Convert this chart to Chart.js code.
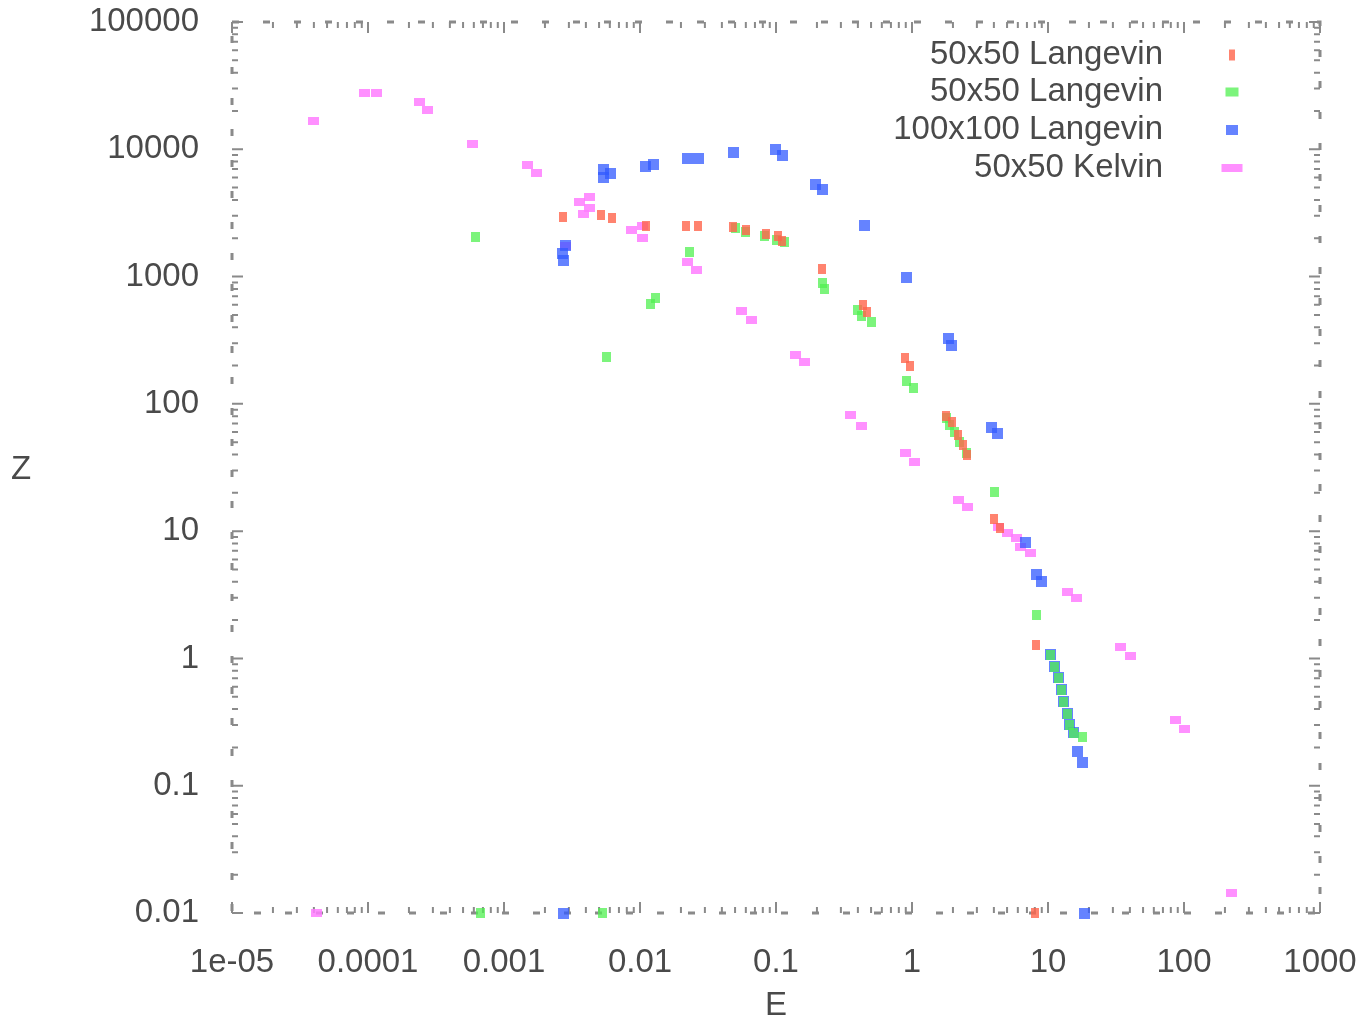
<!DOCTYPE html>
<html>
<head>
<meta charset="utf-8">
<script src="https://cdn.jsdelivr.net/npm/chart.js@4.4.1/dist/chart.umd.min.js"></script>
<style>
  html, body { margin: 0; padding: 0; background: #fff; }
</style>
</head>
<body>
<canvas id="graph" width="1367" height="1026"></canvas>
<script>
// axis ticks
const xTickValues = [1e-5, 1e-4, 1e-3, 0.01, 0.1, 1, 10, 100, 1000];
const xTickLabels = ["1e-05", "0.0001", "0.001", "0.01", "0.1", "1", "10", "100", "1000"];
const yTickValues = [0.01, 0.1, 1, 10, 100, 1000, 10000, 100000];
const yTickLabels = ["0.01", "0.1", "1", "10", "100", "1000", "10000", "100000"];

const seriesNames = ["50x50 Langevin", "50x50 Langevin", "100x100 Langevin", "50x50 Kelvin"];

// 50x50 Langevin (red)
const lang1X = [0.00272, 0.00516, 0.00622, 0.0111, 0.0218, 0.0267, 0.0483, 0.0601, 0.0843, 0.104, 0.111,
  0.218, 0.437, 0.467, 0.889, 0.966, 1.78, 1.97, 2.18, 2.37, 2.54, 4.01, 4.44, 8.17, 8.02];
const lang1Y = [2940, 3050, 2880, 2500, 2500, 2500, 2450, 2320, 2160, 2080, 1900,
  1150, 598, 527, 230, 199, 80.4, 72.1, 57.0, 47.6, 39.7, 12.5, 10.6, 1.28, 0.01];

// 50x50 Langevin (green)
const lang2X = [0.000622, 0.00571, 0.0119, 0.0129, 0.0233, 0.0508, 0.0601, 0.083, 0.1, 0.115, 0.218, 0.229,
  0.395, 0.428, 0.5, 0.904, 1.02, 1.78, 1.9, 2.07, 2.25, 2.5, 4.01, 8.17,
  10.5, 11.2, 11.9, 12.5, 13.1, 13.8, 14.5, 15.5, 17.8, 0.000667, 0.00526];
const lang2Y = [2050, 234, 609, 679, 1560, 2410, 2240, 2080, 1940, 1870, 891, 800,
  547, 491, 440, 151, 133, 77.5, 68.3, 60.2, 50.2, 41.1, 20.3, 2.2,
  1.07, 0.859, 0.703, 0.566, 0.456, 0.366, 0.301, 0.26, 0.242, 0.01, 0.01];

// 100x100 Langevin (blue)
const lang3X = [0.00281, 0.00267, 0.00272, 0.00535, 0.00612, 0.00543, 0.0109, 0.0125, 0.0225, 0.0267, 0.0491,
  0.0985, 0.112, 0.194, 0.218, 0.444, 0.918, 1.87, 1.94, 3.81, 4.22, 6.78, 8.17, 8.89,
  10.5, 11.2, 11.9, 12.5, 13.1, 13.8, 14.5, 15.5, 16.6, 17.8, 0.00272, 18.4];
const lang3Y = [1740, 1510, 1330, 6880, 6510, 5950, 7260, 7530, 8540, 8400, 9520,
  9880, 8860, 5250, 4790, 2500, 975, 324, 285, 64.7, 58.1, 8.08, 4.53, 3.99,
  1.07, 0.859, 0.703, 0.566, 0.456, 0.366, 0.301, 0.26, 0.185, 0.151, 0.01, 0.01];

// 50x50 Kelvin (pink)
const kelvX = [4.0e-5, 9.5e-5, 1.16e-4, 2.41e-4, 2.76e-4, 5.82e-4, 1.5e-3, 1.72e-3, 3.62e-3, 4.28e-3, 4.22e-3,
  3.81e-3, 2.81e-3, 8.73e-3, 0.0105, 0.0105, 0.0222, 0.0262, 0.0562, 0.0655, 0.138, 0.161,
  0.356, 0.422, 0.889, 1.05, 2.18, 2.58, 4.29, 5.08, 5.82, 6.33, 7.38, 13.8, 16.1,
  34.4, 40.7, 85.9, 100, 225, 4.15e-5];
const kelvY = [16700, 27700, 27700, 23500, 20400, 11000, 7530, 6510, 3860, 4220, 3460,
  3100, 1740, 2320, 2500, 2010, 1300, 1130, 537, 456, 242, 213,
  81.8, 67.1, 41.1, 35.0, 17.6, 15.5, 10.8, 9.68, 8.85, 7.52, 6.75, 3.33, 2.99,
  1.23, 1.05, 0.329, 0.28, 0.0144, 0.01];

const colors = ["rgba(255,100,75,0.8)", "rgba(80,240,80,0.75)", "rgba(50,90,255,0.75)", "rgba(255,125,255,0.85)"];

const FONT = "'Liberation Sans', Arial, sans-serif";
const TEXT = "#4a4a4a";

// small filled rectangles used as point marks
function makeMark(w, h, color) {
  const c = document.createElement("canvas");
  c.width = w;
  c.height = h;
  const g = c.getContext("2d");
  g.fillStyle = color;
  g.fillRect(0, 0, w, h);
  return c;
}

const markSizes = [[8, 10], [9, 10], [11, 11], [11, 8]];
const legendSizes = [[6, 11], [13, 9], [12, 10], [21, 8]];

const toPoints = (xs, ys) => xs.map((x, i) => ({ x: x, y: ys[i] }));
const seriesData = [toPoints(lang1X, lang1Y), toPoints(lang2X, lang2Y), toPoints(lang3X, lang3Y), toPoints(kelvX, kelvY)];

// border with tick marks on all four sides, gnuplot style
const framePlugin = {
  id: "frame",
  beforeDatasetsDraw(chart) {
    const { ctx, chartArea: a, scales } = chart;
    const x = scales.x, y = scales.y;
    ctx.save();
    ctx.strokeStyle = "#8a8a8a";
    ctx.lineWidth = 3;
    ctx.setLineDash([7, 24]);
    ctx.strokeRect(a.left, a.top, a.right - a.left, a.bottom - a.top);
    ctx.setLineDash([]);
    ctx.lineWidth = 2;
    for (let e = -5; e <= 3; e++) {
      for (let m = 1; m <= 9; m++) {
        const v = m * Math.pow(10, e);
        if (v > 1000 * 1.0001) break;
        const px = x.getPixelForValue(v);
        const len = m === 1 ? 11 : 6;
        ctx.beginPath();
        ctx.moveTo(px, a.bottom); ctx.lineTo(px, a.bottom - len);
        ctx.moveTo(px, a.top); ctx.lineTo(px, a.top + len);
        ctx.stroke();
      }
    }
    for (let e = -2; e <= 5; e++) {
      for (let m = 1; m <= 9; m++) {
        const v = m * Math.pow(10, e);
        if (v > 100000 * 1.0001) break;
        const py = y.getPixelForValue(v);
        const len = m === 1 ? 11 : 6;
        ctx.beginPath();
        ctx.moveTo(a.left, py); ctx.lineTo(a.left + len, py);
        ctx.moveTo(a.right, py); ctx.lineTo(a.right - len, py);
        ctx.stroke();
      }
    }
    ctx.restore();
  },
  afterDraw(chart) {
    const { ctx } = chart;
    ctx.save();
    ctx.font = "33px " + FONT;
    ctx.fillStyle = TEXT;
    ctx.textBaseline = "middle";
    // y label (horizontal, like gnuplot)
    ctx.textAlign = "center";
    ctx.fillText("Z", 21, 470);
    // legend, inside the plot at top right
    const rows = [55, 92, 130, 168];
    ctx.textAlign = "right";
    seriesNames.forEach((name, i) => {
      ctx.fillStyle = TEXT;
      ctx.fillText(name, 1163, rows[i]);
      const [w, h] = legendSizes[i];
      ctx.fillStyle = colors[i];
      ctx.fillRect(1232 - w / 2, rows[i] - h / 2, w, h);
    });
    ctx.restore();
  }
};

const ctx = document.getElementById("graph").getContext("2d");
new Chart(ctx, {
  type: "scatter",
  data: {
    datasets: seriesData.map((pts, i) => ({
      label: seriesNames[i],
      data: pts,
      pointStyle: makeMark(markSizes[i][0], markSizes[i][1], colors[i]),
      showLine: false,
      clip: false,
    })),
  },
  options: {
    responsive: false,
    animation: false,
    layout: { padding: { top: 22, right: 47, left: 0, bottom: 0 } },
    plugins: {
      legend: { display: false },
      tooltip: { enabled: false },
    },
    scales: {
      x: {
        type: "logarithmic",
        min: 1e-5,
        max: 1000,
        grid: { display: false },
        border: { display: false },
        afterBuildTicks: (scale) => { scale.ticks = xTickValues.map(v => ({ value: v })); },
        afterFit: (scale) => {
          scale.height = 113;
          scale.paddingLeft = 0;
          scale.paddingRight = 0;
        },
        ticks: {
          autoSkip: false,
          maxRotation: 0,
          padding: 22,
          color: TEXT,
          font: { family: FONT, size: 33 },
          callback: (v, i) => xTickLabels[i],
        },
        title: {
          display: true,
          text: "E",
          color: TEXT,
          padding: { top: -3, bottom: 0 },
          font: { family: FONT, size: 33 },
        },
      },
      y: {
        type: "logarithmic",
        min: 0.01,
        max: 100000,
        grid: { display: false },
        border: { display: false },
        afterBuildTicks: (scale) => { scale.ticks = yTickValues.map(v => ({ value: v })); },
        afterFit: (scale) => {
          scale.width = 232;
          scale.paddingTop = 0;
          scale.paddingBottom = 0;
        },
        ticks: {
          autoSkip: false,
          padding: 25,
          color: TEXT,
          font: { family: FONT, size: 33 },
          callback: (v, i) => yTickLabels[i],
        },
      },
    },
  },
  plugins: [framePlugin],
});
</script>
</body>
</html>
